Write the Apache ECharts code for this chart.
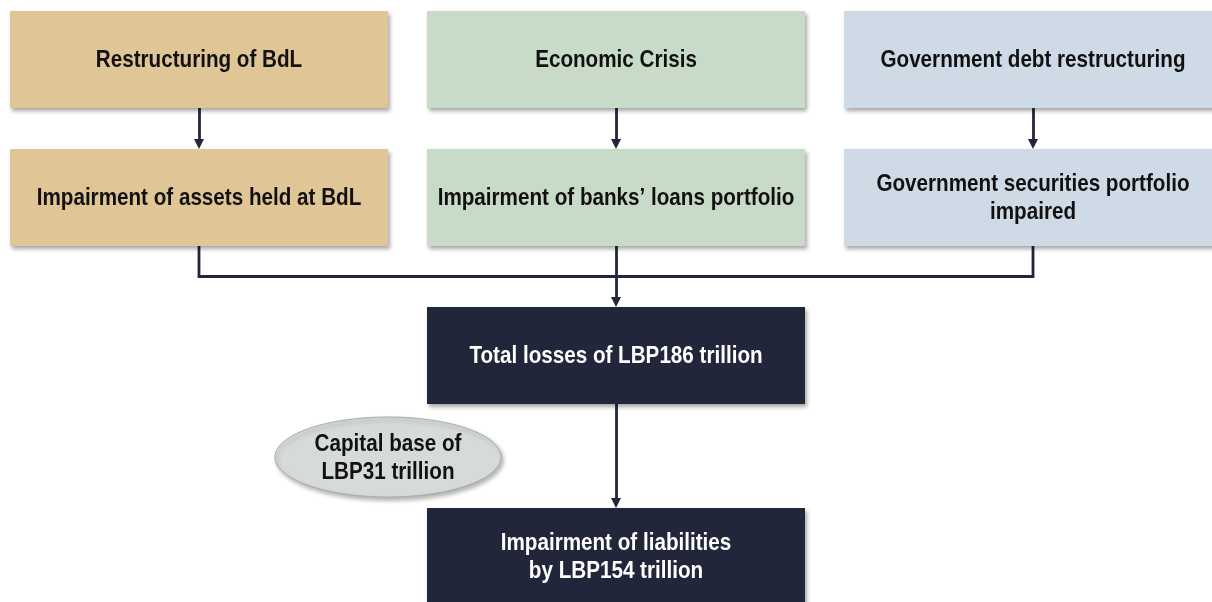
<!DOCTYPE html>
<html>
<head>
<meta charset="utf-8">
<script src="https://cdn.jsdelivr.net/npm/echarts@6/dist/echarts.min.js"></script>
<style>
  html, body { margin: 0; padding: 0; background: #fff; }
  #chart { width: 1212px; height: 602px; }
</style>
</head>
<body>
<div id="chart"></div>
<script>
// flow boxes (centres in canvas units)
const boxLabels = [
  'Restructuring of BdL',
  'Economic Crisis',
  'Government debt restructuring',
  'Impairment of assets held at BdL',
  'Impairment of banks’ loans portfolio',
  'Government securities portfolio\nimpaired',
  'Total losses of LBP186 trillion',
  'Impairment of liabilities\nby LBP154 trillion'
]
const boxCenterX = [199, 616, 1033, 199, 616, 1033, 616, 616]
const boxCenterY = [59.5, 59.5, 59.5, 197.5, 197.5, 197.5, 355.5, 556.5]
const boxTone = ['tan', 'green', 'blue', 'tan', 'green', 'blue', 'navy', 'navy']

// straight arrows: [from box, to box]
const arrowLinks = [[0, 3], [1, 4], [2, 5], [6, 7]]
// boxes merging into the total box
const mergeFrom = [3, 4, 5]
const mergeTo = 6

// side note
const noteLabel = 'Capital base of\nLBP31 trillion'
const noteCenter = [388, 457]

const HALF_W = 189
const HALF_H = 48.5
const ARROW = 10
const NAVY = '#22263a'
// narrow look: Arial-like face squeezed horizontally
const FONT = 'bold 24px "Liberation Sans", Arial, sans-serif'
const SQUEEZE = 0.86

const toneFill = {
  tan: '#e0c596',
  green: '#c8dbc8',
  blue: '#cedbe6',
  navy: NAVY
}

const boxData = boxLabels.map((name, i) => [boxCenterX[i], boxCenterY[i], i])

const boxTop = i => [boxCenterX[i], boxCenterY[i] - HALF_H]
const boxBottom = i => [boxCenterX[i], boxCenterY[i] + HALF_H]
// arrow symbol is centred on the end point, pull it back so the tip touches the box
const arrowEnd = i => [boxCenterX[i], boxCenterY[i] - HALF_H - ARROW / 2]

const arrowData = arrowLinks.map(([a, b]) => ({ coords: [boxBottom(a), arrowEnd(b)] }))
const busY = (boxBottom(mergeFrom[0])[1] + boxTop(mergeTo)[1]) / 2
const firstIdx = mergeFrom[0]
const lastIdx = mergeFrom[mergeFrom.length - 1]
const busData = [{
  coords: [boxBottom(firstIdx), [boxCenterX[firstIdx], busY], [boxCenterX[lastIdx], busY], boxBottom(lastIdx)]
}]
mergeFrom.filter(i => i !== firstIdx && i !== lastIdx).forEach(i => {
  arrowData.push({ coords: [boxBottom(i), arrowEnd(mergeTo)] })
})

const chart = echarts.init(document.getElementById('chart'))

const labelEl = (text, x, y, color) => ({
  type: 'text',
  x: x,
  y: y + 1,
  scaleX: SQUEEZE,
  style: {
    text: text,
    fill: color,
    font: FONT,
    lineHeight: 28,
    align: 'center',
    verticalAlign: 'middle'
  }
})

const renderBox = (params, api) => {
  const i = api.value(2)
  const p0 = api.coord([api.value(0) - HALF_W, api.value(1) - HALF_H])
  const p1 = api.coord([api.value(0) + HALF_W, api.value(1) + HALF_H])
  const dark = boxTone[i] === 'navy'
  return {
    type: 'group',
    children: [
      {
        type: 'rect',
        shape: { x: p0[0], y: p0[1], width: p1[0] - p0[0], height: p1[1] - p0[1] },
        style: {
          fill: toneFill[boxTone[i]],
          shadowBlur: 4,
          shadowOffsetX: 2,
          shadowOffsetY: 3,
          shadowColor: 'rgba(0,0,0,0.35)'
        }
      },
      labelEl(boxLabels[i], (p0[0] + p1[0]) / 2, (p0[1] + p1[1]) / 2, dark ? '#ffffff' : '#111111')
    ]
  }
}

const renderNote = (params, api) => {
  const c = api.coord([api.value(0), api.value(1)])
  return {
    type: 'group',
    children: [
      {
        type: 'ellipse',
        shape: { cx: c[0], cy: c[1], rx: 113, ry: 40 },
        style: {
          fill: '#d6dbd8',
          stroke: '#a9adab',
          lineWidth: 1,
          shadowBlur: 4,
          shadowOffsetX: 2,
          shadowOffsetY: 3,
          shadowColor: 'rgba(0,0,0,0.3)'
        }
      },
      labelEl(noteLabel, c[0], c[1], '#111111')
    ]
  }
}

chart.setOption({
  animation: false,
  backgroundColor: '#ffffff',
  grid: { left: 0, right: 0, top: 0, bottom: 0 },
  xAxis: { type: 'value', min: 0, max: 1212, show: false },
  yAxis: { type: 'value', min: 0, max: 602, inverse: true, show: false },
  series: [
    {
      type: 'lines',
      coordinateSystem: 'cartesian2d',
      polyline: true,
      silent: true,
      z: 1,
      lineStyle: { color: NAVY, width: 2.8, opacity: 1 },
      data: busData
    },
    {
      type: 'lines',
      coordinateSystem: 'cartesian2d',
      silent: true,
      z: 1,
      symbol: ['none', 'triangle'],
      symbolSize: [0, ARROW],
      lineStyle: { color: NAVY, width: 2.8, opacity: 1 },
      data: arrowData
    },
    {
      type: 'custom',
      coordinateSystem: 'cartesian2d',
      silent: true,
      z: 2,
      data: boxData,
      renderItem: renderBox
    },
    {
      type: 'custom',
      coordinateSystem: 'cartesian2d',
      silent: true,
      z: 2,
      data: [noteCenter],
      renderItem: renderNote
    }
  ]
})
</script>
</body>
</html>
